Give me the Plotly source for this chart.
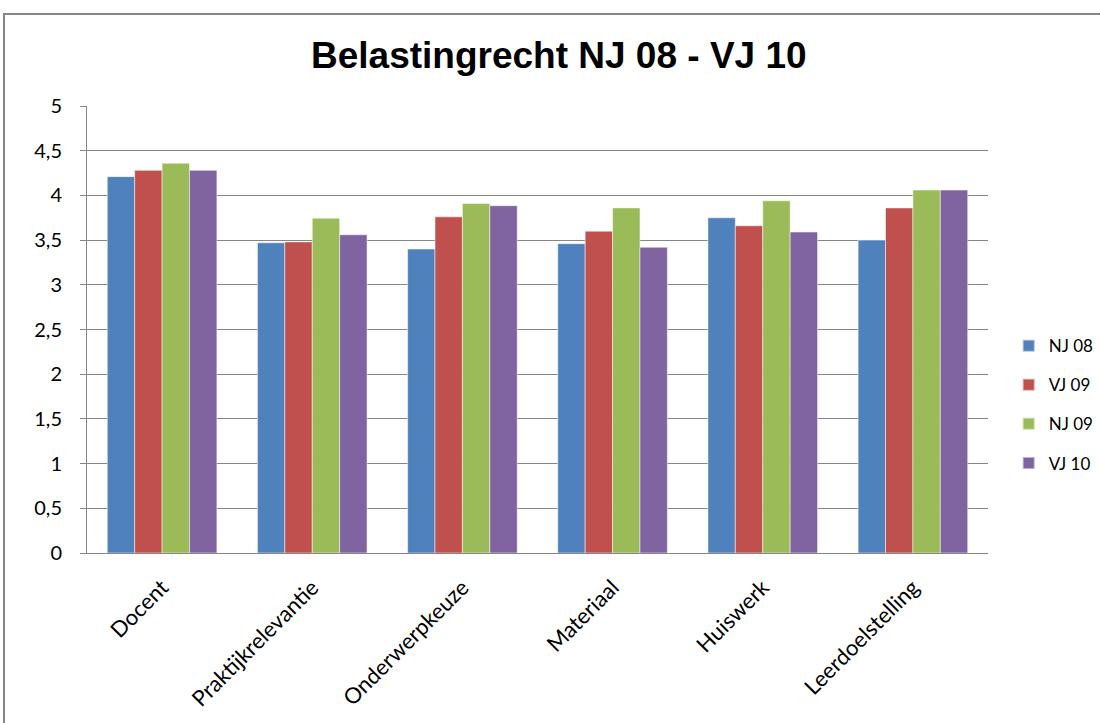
import plotly.graph_objects as go

categories = ['Docent', 'Praktijkrelevantie', 'Onderwerpkeuze', 'Materiaal', 'Huiswerk', 'Leerdoelstelling']
nj08 = [4.21, 3.47, 3.40, 3.46, 3.75, 3.50]
vj09 = [4.28, 3.48, 3.76, 3.60, 3.66, 3.86]
nj09 = [4.36, 3.745, 3.91, 3.86, 3.94, 4.06]
vj10 = [4.28, 3.56, 3.885, 3.42, 3.59, 4.06]

series = [('NJ 08', nj08, '#4F81BD'),
          ('VJ 09', vj09, '#C0504D'),
          ('NJ 09', nj09, '#9BBB59'),
          ('VJ 10', vj10, '#8064A2')]

font_fam = 'Lato, Calibri, Carlito, sans-serif'

fig = go.Figure()
for name, vals, col in series:
    fig.add_trace(go.Bar(
        x=categories, y=vals, name=name, legendgroup=name,
        marker=dict(color=col, line=dict(color='rgba(255,255,255,0.5)', width=1))
    ))

# outer chart border (runs off the right and bottom like the original)
fig.add_shape(type='rect', xref='paper', yref='paper',
              x0=-0.0921, y0=-0.6, x1=1.3, y1=1.2058,
              line=dict(color='#868686', width=2), layer='below')

fig.update_layout(
    width=1100, height=723,
    margin=dict(l=87, r=112, t=106, b=170, autoexpand=False),
    title=dict(text='<b>Belastingrecht NJ 08 - VJ 10</b>',
               x=0.508, xanchor='center', xref='container',
               y=0.924, yanchor='middle',
               font=dict(family='Arial, Liberation Sans', size=37, color='black')),
    barmode='group', bargap=0.27, bargroupgap=0,
    separators=', ',
    plot_bgcolor='white', paper_bgcolor='white',
    font=dict(family=font_fam, size=19, color='black'),
    legend=dict(x=1.023, y=0.332, yanchor='middle', xanchor='left',
                font=dict(family=font_fam, size=17),
                tracegroupgap=14, itemsizing='constant',
                traceorder='grouped'),
    showlegend=True,
)
fig.update_yaxes(range=[0, 5], dtick=0.5, showgrid=True, gridcolor='#868686', gridwidth=1,
                 showline=True, linecolor='#868686', linewidth=1,
                 ticks='outside', ticklen=6, tickcolor='#868686',
                 tickfont=dict(size=20), ticklabelstandoff=14,
                 zeroline=False, automargin=False)
fig.update_xaxes(showline=True, linecolor='#868686', linewidth=1,
                 tickangle=-45, tickfont=dict(size=22), ticks='',
                 ticklabelstandoff=12, automargin=False)

# drop the default 8px body margin so the figure fills the window
fig.write_html('out.html', config={'displayModeBar': False},
               post_script="document.body.style.margin='0';")
